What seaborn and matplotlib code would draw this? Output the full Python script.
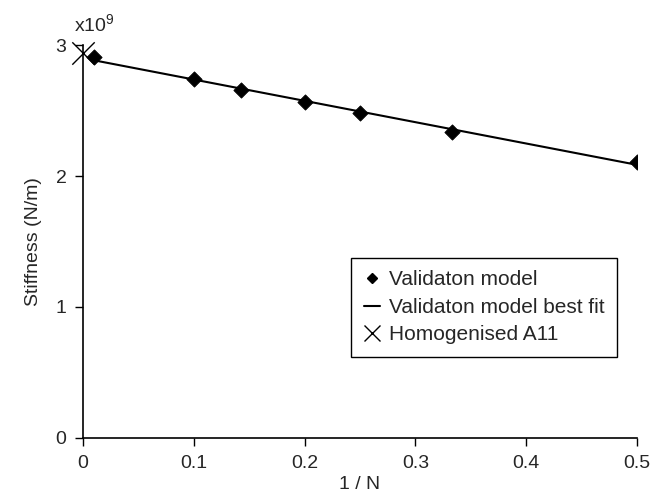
import matplotlib
matplotlib.use('Agg')
import matplotlib.pyplot as plt
import pandas as pd
import seaborn as sns
from matplotlib.lines import Line2D

# data (stiffness in units of 1e9 N/m)
inv_n = [0.01, 0.1, 1 / 7, 0.2, 0.25, 1 / 3, 0.5]
stiffness = [2.906, 2.740, 2.656, 2.567, 2.481, 2.338, 2.109]
homog_x = [0.0]
homog_a11 = [2.94]

x_ticks = [0, 0.1, 0.2, 0.3, 0.4, 0.5]
x_tick_labels = ['0', '0.1', '0.2', '0.3', '0.4', '0.5']
y_ticks = [0, 1, 2, 3]
legend_labels = ['Validaton model', 'Validaton model best fit', 'Homogenised A11']

df = pd.DataFrame({'inv_n': inv_n, 'stiffness': stiffness})
df_h = pd.DataFrame({'inv_n': homog_x, 'stiffness': homog_a11})

sns.set_style('ticks')
plt.rcParams['font.family'] = ['Liberation Sans', 'DejaVu Sans']
plt.rcParams['mathtext.default'] = 'regular'

fig, ax = plt.subplots(figsize=(6.6, 5.01), dpi=100)
fig.subplots_adjust(left=0.126, right=0.965, bottom=0.126, top=0.910)

# best fit line over the data range
sns.regplot(data=df, x='inv_n', y='stiffness', ax=ax, scatter=False, ci=None,
            truncate=True, line_kws={'color': 'black', 'linewidth': 1.5})

# model points
sns.scatterplot(data=df, x='inv_n', y='stiffness', ax=ax, marker='D', s=60,
                color='black', edgecolor='black', zorder=3, legend=False)

# homogenised value
sns.scatterplot(data=df_h, x='inv_n', y='stiffness', ax=ax, marker='x', s=260,
                color='black', linewidth=1.0, zorder=4, legend=False, clip_on=False)

# axes
ax.set_xlim(0, 0.5)
ax.set_ylim(0, 3)
ax.set_xticks(x_ticks, x_tick_labels, fontsize=14)
ax.set_yticks(y_ticks, [str(t) for t in y_ticks], fontsize=14)
ax.tick_params(direction='out', length=6, width=1, color='black', pad=6)
for s in ['left', 'bottom']:
    ax.spines[s].set_color('black')
    ax.spines[s].set_linewidth(1.2)
sns.despine(ax=ax)
ax.set_xlabel('1 / N', fontsize=14, labelpad=3)
ax.set_ylabel('Stiffness (N/m)', fontsize=14, labelpad=10)

ax.text(0.02, 1.025, r'x10$^{9}$', transform=ax.transAxes, ha='center',
        va='bottom', fontsize=14)

# legend
handles = [
    Line2D([], [], marker='D', linestyle='none', color='black', markersize=5),
    Line2D([], [], color='black', linewidth=1.5),
    Line2D([], [], marker='x', linestyle='none', color='black', markersize=12,
           markeredgewidth=1),
]
leg = ax.legend(handles, legend_labels, loc='upper left',
                bbox_to_anchor=(0.484, 0.458), fontsize=15, frameon=True,
                fancybox=False, handlelength=0.8, handletextpad=0.4,
                labelspacing=0.4, borderpad=0.6, borderaxespad=0)
leg.get_frame().set_edgecolor('black')
leg.get_frame().set_linewidth(1.0)
leg.get_frame().set_alpha(1)

plt.savefig('out.png', dpi=100)
